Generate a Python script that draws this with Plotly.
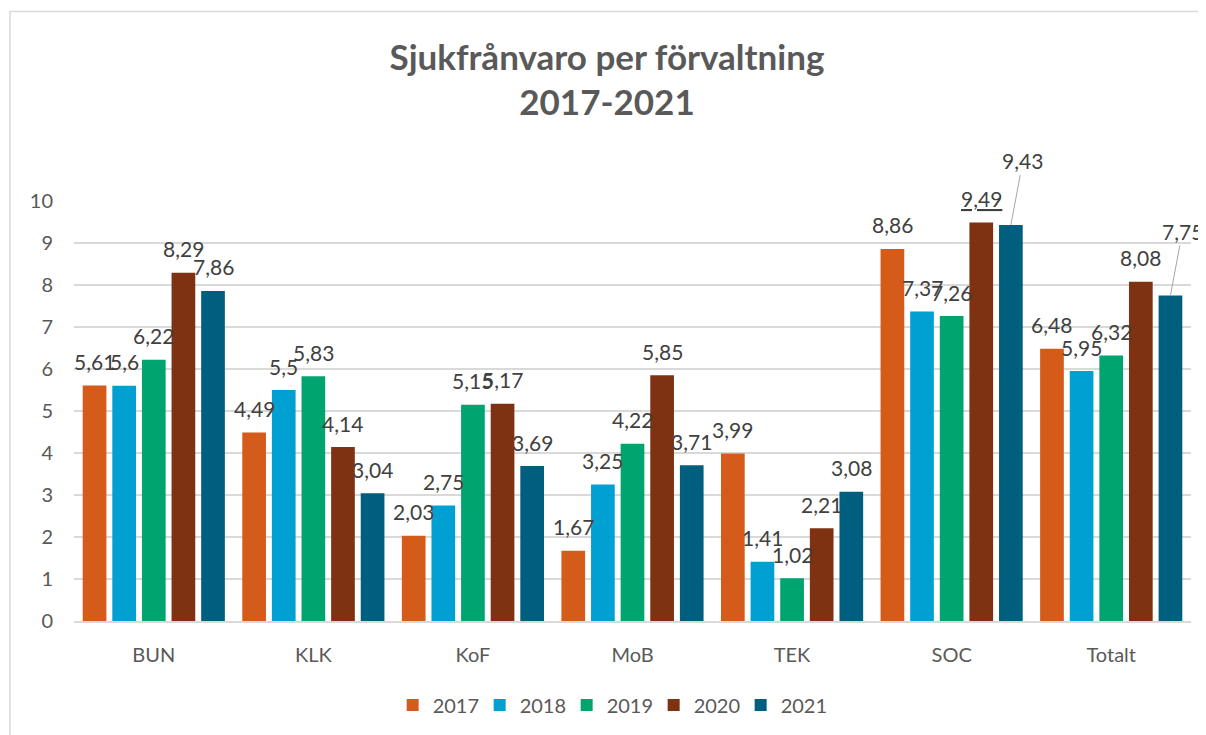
import plotly.graph_objects as go

# ── Data ──────────────────────────────────────────────────────────────────────
CATEGORIES = ["BUN", "KLK", "KoF", "MoB", "TEK", "SOC", "Totalt"]
YEARS = ["2017", "2018", "2019", "2020", "2021"]
V2017 = [5.61, 4.49, 2.03, 1.67, 3.99, 8.86, 6.48]
V2018 = [5.6, 5.5, 2.75, 3.25, 1.41, 7.37, 5.95]
V2019 = [6.22, 5.83, 5.15, 4.22, 1.02, 7.26, 6.32]
V2020 = [8.29, 4.14, 5.17, 5.85, 2.21, 9.49, 8.08]
V2021 = [7.86, 3.04, 3.69, 3.71, 3.08, 9.43, 7.75]
SERIES = [V2017, V2018, V2019, V2020, V2021]
COLORS = ["#D55B1A", "#00A0D2", "#00A46E", "#7E3211", "#005F7E"]

FONT = "Lato, Calibri, sans-serif"
BARGAP = 0.072
LABEL_FONT = dict(family=FONT, size=21, color="#404040")


def sv(v):
    return f"{v:g}".replace(".", ",")


fig = go.Figure()
for year, vals, col in zip(YEARS, SERIES, COLORS):
    fig.add_bar(x=CATEGORIES, y=vals, name=year, marker_color=col,
                marker_line_width=0)

# data labels, placed over each bar of the group
slot = (1 - BARGAP) / len(YEARS)
for yi, (year, vals) in enumerate(zip(YEARS, SERIES)):
    for ci, v in enumerate(vals):
        x = ci + (yi - 2) * slot
        txt = sv(v)
        if year == "2021" and ci in (5, 6):
            # SOC and Totalt labels are pulled away with leader lines
            fig.add_annotation(
                x=x, y=v, text=txt, showarrow=True, arrowhead=0,
                arrowwidth=1, arrowcolor="#A6A6A6", ax=12, ay=-64,
                standoff=0, font=LABEL_FONT,
            )
            continue
        if year == "2020" and ci == 5:
            txt = f"<u>{txt}</u>"
        fig.add_annotation(
            x=x, y=v, text=txt, showarrow=False, yanchor="middle",
            yshift=24, font=LABEL_FONT,
        )

# chart border (page has an 8px body margin, figure sits at 8,8)
fig.add_shape(
    type="rect", xref="paper", yref="paper",
    x0=-0.0573, x1=1.1, y0=-0.3, y1=1.451,
    line=dict(color="#D9D9D9", width=1.5), fillcolor="rgba(0,0,0,0)",
    layer="below",
)

fig.update_layout(
    width=1198, height=727,
    paper_bgcolor="white", plot_bgcolor="white",
    font=dict(family=FONT, color="#595959"),
    title=dict(
        text="<b>Sjukfrånvaro per förvaltning<br>2017-2021</b>",
        x=0.5, xanchor="center", y=0.915, yanchor="middle",
        font=dict(family=FONT, size=35, color="#595959"),
    ),
    barmode="group", bargap=BARGAP, bargroupgap=0.2,
    margin=dict(l=66, r=15, t=193, b=113),
    xaxis=dict(
        range=[-0.5, len(CATEGORIES) - 0.5],
        showline=True, linecolor="#D9D9D9", linewidth=1.5,
        tickfont=dict(family=FONT, size=20, color="#595959"),
        ticks="", ticklabelstandoff=15,
    ),
    yaxis=dict(
        range=[0, 10], dtick=1, showgrid=True, gridcolor="#D9D9D9",
        gridwidth=1.5, zeroline=False, showline=False,
        tickfont=dict(family=FONT, size=20, color="#595959"),
        ticks="", ticklabelstandoff=20,
    ),
    legend=dict(
        orientation="h", x=0.48, xanchor="center", y=-0.197,
        yanchor="middle", font=dict(family=FONT, size=20, color="#595959"),
        itemwidth=30, entrywidth=42, entrywidthmode="pixels",
    ),
    showlegend=True,
)

fig.write_html("out.html")
